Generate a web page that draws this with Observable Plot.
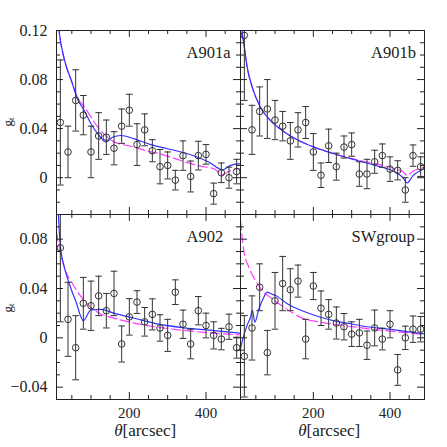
<!DOCTYPE html>
<html>
<head>
<meta charset="utf-8">
<script src="https://cdn.jsdelivr.net/npm/d3@7"></script>
<script src="https://cdn.jsdelivr.net/npm/@observablehq/plot@0.6"></script>
<style>
html, body { margin: 0; padding: 0; background: #fff; }
#chart { position: relative; width: 447px; height: 447px; overflow: hidden; background: #fff; }
#chart svg { position: absolute; left: 0; top: 0; }
</style>
</head>
<body>
<div id="chart"></div>
<script>
// radial bins (arcsec)
const theta = [20, 40, 60, 80, 100, 120, 140, 160, 180, 200, 220, 240, 260, 280, 300, 320, 340, 360, 380, 400, 420, 440, 460, 480];

// A901a
const a901aG   = [0.045, 0.021, 0.063, 0.051, 0.021, 0.034, 0.033, 0.024, 0.042, 0.055, 0.027, 0.039, 0.022, 0.009, 0.010, -0.002, 0.018, 0.001, 0.018, 0.019, -0.013, 0.004, 0.000, 0.005];
const a901aErr = [0.051, 0.021, 0.025, 0.016, 0.021, 0.019, 0.014, 0.0135, 0.014, 0.013, 0.017, 0.013, 0.009, 0.014, 0.011, 0.008, 0.012, 0.0126, 0.0117, 0.008, 0.0086, 0.008, 0.0086, 0.010];
const a901aBlueX = [12, 17, 30, 50, 65, 82, 100, 121, 139, 156, 178, 213, 256, 300, 352, 408, 443, 464, 482, 490];
const a901aBlueY = [0.135, 0.119, 0.097, 0.078, 0.064, 0.055, 0.044, 0.0344, 0.029, 0.033, 0.0344, 0.0317, 0.027, 0.0236, 0.0195, 0.0126, 0.0064, 0.010, 0.0113, 0.0113];
const a901aDashX = [12, 17, 30, 50, 65, 82, 121, 156, 213, 256, 273, 334, 386, 421, 443, 464, 482, 490];
const a901aDashY = [0.135, 0.119, 0.097, 0.078, 0.065, 0.058, 0.040, 0.030, 0.0249, 0.021, 0.020, 0.014, 0.0094, 0.0073, 0.0026, 0.0059, 0.0073, 0.0075];

// A901b
const a901bG   = [0.116, 0.039, 0.054, 0.056, 0.047, 0.042, 0.030, 0.039, 0.045, 0.021, 0.002, 0.026, 0.009, 0.025, 0.027, 0.003, 0.003, 0.013, 0.018, 0.007, 0.006, -0.010, 0.018, 0.009];
const a901bErr = [0.053, 0.020, 0.020, 0.024, 0.016, 0.012, 0.015, 0.014, 0.013, 0.015, 0.010, 0.0136, 0.011, 0.009, 0.0095, 0.010, 0.012, 0.0094, 0.0095, 0.010, 0.0078, 0.010, 0.0087, 0.008];
const a901bBlueX = [12, 14, 19, 27.5, 40.6, 62, 88.5, 119, 158, 202, 254, 315, 368, 411, 433, 445, 459, 490];
const a901bBlueY = [0.14, 0.12, 0.109, 0.090, 0.0738, 0.0575, 0.0466, 0.0385, 0.0309, 0.0249, 0.0195, 0.014, 0.0094, 0.0051, 0.0004, -0.0042, 0.0013, 0.0073];
const a901bDashX = [12, 14, 19, 27.5, 40.6, 62, 88.5, 119, 158, 202, 254, 315, 368, 411, 433, 445, 459, 490];
const a901bDashY = [0.14, 0.12, 0.109, 0.090, 0.0738, 0.0575, 0.0466, 0.0385, 0.0309, 0.0249, 0.0195, 0.0145, 0.011, 0.0075, 0.005, 0.002, 0.005, 0.0085];

// A902
const a902G   = [0.073, 0.015, -0.008, 0.028, 0.026, 0.034, 0.022, 0.036, -0.005, 0.017, 0.029, 0.013, 0.019, 0.008, 0.002, 0.037, 0.011, -0.005, 0.022, 0.010, 0.002, -0.001, 0.009, -0.008];
const a902Err = [0.060, 0.030, 0.026, 0.021, 0.020, 0.016, 0.014, 0.018, 0.0146, 0.0148, 0.0092, 0.0116, 0.0126, 0.0107, 0.013, 0.010, 0.0115, 0.012, 0.0115, 0.010, 0.011, 0.0087, 0.0102, 0.0085];
const a902BlueX = [12, 15, 20, 30, 39, 50, 61, 80, 100, 126, 160, 213, 273, 343, 421, 490];
const a902BlueY = [0.13, 0.10, 0.075, 0.058, 0.048, 0.038, 0.029, 0.014, 0.0227, 0.023, 0.020, 0.0159, 0.0113, 0.0081, 0.0059, 0.0038];
const a902DashX = [10, 17, 30, 52, 82, 117, 160, 213, 273, 343, 421, 490];
const a902DashY = [0.0857, 0.0735, 0.0573, 0.0438, 0.0303, 0.0208, 0.016, 0.0119, 0.0087, 0.006, 0.0038, 0.0024];

// SWgroup
const swG   = [-0.015, 0.008, 0.041, -0.012, 0.030, 0.044, 0.039, 0.046, -0.001, 0.042, 0.024, 0.019, 0.012, 0.009, 0.003, 0.004, -0.006, 0.008, -0.001, 0.011, -0.026, 0.000, 0.007, 0.007];
const swErr = [0.033, 0.026, 0.019, 0.018, 0.023, 0.022, 0.017, 0.013, 0.016, 0.011, 0.014, 0.012, 0.013, 0.0107, 0.010, 0.011, 0.0115, 0.0145, 0.0088, 0.011, 0.0125, 0.0095, 0.0107, 0.0103];
const swBlueX = [10, 14, 27.5, 36, 41, 47.5, 58, 67, 80, 89, 102, 132, 176, 219, 263, 298, 324, 411, 490];
const swBlueY = [-0.0086, -0.0032, 0.0103, 0.0167, 0.0222, 0.0127, 0.0235, 0.0303, 0.037, 0.0357, 0.0343, 0.0276, 0.0213, 0.0167, 0.0132, 0.0114, 0.0098, 0.0065, 0.0032];
const swDashX = [10, 18.6, 31.7, 49, 67, 93, 123, 176, 219, 298, 368, 429, 490];
const swDashY = [0.095, 0.0708, 0.0573, 0.0465, 0.0384, 0.0316, 0.0249, 0.0154, 0.0127, 0.0092, 0.0065, 0.0046, 0.0027];

// Axes
const panelNames = ["A901a", "A901b", "A902", "SWgroup"];
const xDomain = [10, 490];
const xMajor = [200, 400];
const xMajorLabels = ["200", "400"];
const xMinor = [50, 100, 150, 250, 300, 350, 450];
const yTopDomain = [-0.03, 0.12];
const yTopMajor = [0, 0.04, 0.08, 0.12];
const yTopLabels = ["0", "0.04", "0.08", "0.12"];
const yTopMinor = [-0.02, -0.01, 0.01, 0.02, 0.03, 0.05, 0.06, 0.07, 0.09, 0.10, 0.11];
const yBotDomain = [-0.05, 0.10];
const yBotMajor = [-0.04, 0, 0.04, 0.08];
const yBotLabels = ["\u22120.04", "0", "0.04", "0.08"];
const yBotMinor = [-0.03, -0.02, -0.01, 0.01, 0.02, 0.03, 0.05, 0.06, 0.07, 0.09];
const yLabelMain = "g";
const yLabelSub = "t";
const xLabelSymbol = "\u03b8";
const xLabelUnit = "[arcsec]";

const cap = { draw(ctx) { ctx.moveTo(-3.3, 0); ctx.lineTo(3.3, 0); } };
const ink = "#222";
const W = 447, H = 447;
const FONT = "'Liberation Serif', 'Times New Roman', serif";

function makePanel(cfg) {
  const { left, top, pw, ph } = cfg;
  const pts = theta.map((t, i) => ({ t, g: cfg.g[i], lo: cfg.g[i] - cfg.err[i], hi: cfg.g[i] + cfg.err[i] }));
  const blue = cfg.blueX.map((t, i) => ({ t, g: cfg.blueY[i] }));
  const dash = cfg.dashX.map((t, i) => ({ t, g: cfg.dashY[i] }));
  const marks = [
    Plot.line(dash, { x: "t", y: "g", stroke: "#ff3cff", strokeWidth: 1.2, strokeDasharray: "9,4", curve: "monotone-x", clip: true }),
    Plot.line(blue, { x: "t", y: "g", stroke: "#3232ff", strokeWidth: 1.2, curve: "monotone-x", clip: true }),
    Plot.ruleX(pts, { x: "t", y1: "lo", y2: "hi", stroke: "#333", strokeWidth: 1, clip: true }),
    Plot.dot(pts, { x: "t", y: "lo", symbol: cap, stroke: "#333", fill: "none", strokeWidth: 1, clip: true }),
    Plot.dot(pts, { x: "t", y: "hi", symbol: cap, stroke: "#333", fill: "none", strokeWidth: 1, clip: true }),
    Plot.dot(pts, { x: "t", y: "g", r: 3.3, stroke: "#333", fill: "none", strokeWidth: 1, clip: true }),
    // inward ticks on all four sides
    Plot.ruleX(xMajor, { x: d => d, insetBottom: ph - 7, stroke: ink }),
    Plot.ruleX(xMajor, { x: d => d, insetTop: ph - 7, stroke: ink }),
    Plot.ruleX(xMinor, { x: d => d, insetBottom: ph - 4, stroke: ink }),
    Plot.ruleX(xMinor, { x: d => d, insetTop: ph - 4, stroke: ink }),
    Plot.ruleY(cfg.yMajor, { y: d => d, insetRight: pw - 7, stroke: ink }),
    Plot.ruleY(cfg.yMajor, { y: d => d, insetLeft: pw - 7, stroke: ink }),
    Plot.ruleY(cfg.yMinor, { y: d => d, insetRight: pw - 4, stroke: ink }),
    Plot.ruleY(cfg.yMinor, { y: d => d, insetLeft: pw - 4, stroke: ink }),
    Plot.frame({ stroke: ink }),
    Plot.text([cfg.name], { frameAnchor: "top-left", dx: cfg.labelDx, dy: 16, lineAnchor: "top", textAnchor: "start", text: d => d, fontSize: 16.5, fill: ink })
  ];
  if (cfg.showY) {
    marks.push(Plot.axisY(cfg.yMajor, { anchor: "left", tickSize: 0, tickPadding: 9, label: null, fill: ink, fontSize: 16,
      tickFormat: d => cfg.yLabels[cfg.yMajor.indexOf(d)] }));
    marks.push(Plot.text([yLabelMain], { frameAnchor: "left", dx: -49, dy: cfg.gDy, rotate: -90, text: d => d, fontSize: 13, fill: ink }));
    marks.push(Plot.text([yLabelSub], { frameAnchor: "left", dx: -45.5, dy: cfg.gDy - 6.5, rotate: -90, text: d => d, fontSize: 9, fill: ink }));
  }
  if (cfg.showX) {
    marks.push(Plot.axisX(xMajor, { anchor: "bottom", tickSize: 0, tickPadding: 8, label: null, fill: ink, fontSize: 15,
      tickFormat: d => xMajorLabels[xMajor.indexOf(d)] }));
    marks.push(Plot.text([xLabelSymbol], { frameAnchor: "bottom", dx: -26, dy: 36, textAnchor: "end", fontStyle: "italic", text: d => d, fontSize: 17, fill: ink }));
    marks.push(Plot.text([xLabelUnit], { frameAnchor: "bottom", dx: -26, dy: 36, textAnchor: "start", text: d => d, fontSize: 17, fill: ink }));
  }
  return Plot.plot({
    width: W, height: H,
    marginLeft: left, marginTop: top, marginRight: W - left - pw, marginBottom: H - top - ph,
    x: { domain: xDomain, label: null, axis: cfg.showX ? undefined : null },
    y: { domain: cfg.yDomain, label: null, axis: cfg.showY ? undefined : null },
    style: { background: "transparent", fontFamily: FONT, fontSize: "16px", overflow: "visible", color: ink },
    marks
  });
}

const panels = [
  { name: panelNames[0], g: a901aG, err: a901aErr, blueX: a901aBlueX, blueY: a901aBlueY, dashX: a901aDashX, dashY: a901aDashY,
    left: 56, top: 30, pw: 184, ph: 184, yDomain: yTopDomain, yMajor: yTopMajor, yLabels: yTopLabels, yMinor: yTopMinor,
    showY: true, showX: false, labelDx: 130, gDy: 4 },
  { name: panelNames[1], g: a901bG, err: a901bErr, blueX: a901bBlueX, blueY: a901bBlueY, dashX: a901bDashX, dashY: a901bDashY,
    left: 240, top: 30, pw: 184, ph: 184, yDomain: yTopDomain, yMajor: yTopMajor, yLabels: yTopLabels, yMinor: yTopMinor,
    showY: false, showX: false, labelDx: 130.5 },
  { name: panelNames[2], g: a902G, err: a902Err, blueX: a902BlueX, blueY: a902BlueY, dashX: a902DashX, dashY: a902DashY,
    left: 56, top: 214, pw: 184, ph: 185, yDomain: yBotDomain, yMajor: yBotMajor, yLabels: yBotLabels, yMinor: yBotMinor,
    showY: true, showX: true, labelDx: 130, gDy: 5.5 },
  { name: panelNames[3], g: swG, err: swErr, blueX: swBlueX, blueY: swBlueY, dashX: swDashX, dashY: swDashY,
    left: 240, top: 214, pw: 184, ph: 185, yDomain: yBotDomain, yMajor: yBotMajor, yLabels: yBotLabels, yMinor: yBotMinor,
    showY: false, showX: true, labelDx: 111 }
];

const chart = document.getElementById("chart");
for (const p of panels) chart.appendChild(makePanel(p));
</script>
</body>
</html>
